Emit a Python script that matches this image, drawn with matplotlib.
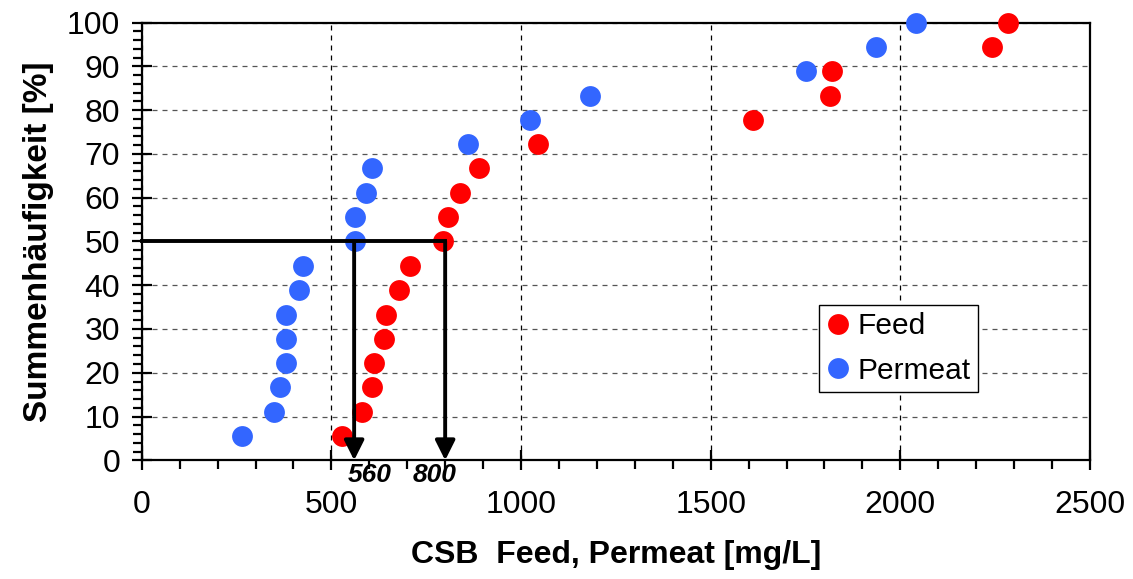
import numpy as np
import matplotlib.pyplot as plt
from matplotlib.ticker import MultipleLocator

plt.rcParams['font.family'] = ['Liberation Sans', 'DejaVu Sans']

# cumulative frequency [%]
freq    = [5.6, 11.1, 16.7, 22.2, 27.8, 33.3, 38.9, 44.4, 50.0,
           55.6, 61.1, 66.7, 72.2, 77.8, 83.3, 88.9, 94.4, 100.0]
# CSB values [mg/L]
feed    = [529, 581, 608, 612, 640, 644, 677, 707, 795,
           808, 840, 888, 1045, 1611, 1815, 1821, 2242, 2284]
permeat = [265, 349, 365, 381, 381, 381, 414, 424, 561,
           561, 592, 608, 860, 1024, 1182, 1752, 1936, 2041]

median_feed    = 800
median_permeat = 560

fig = plt.figure(figsize=(11.33, 5.79), dpi=100)
ax  = fig.add_axes([0.1251, 0.205, 0.8369, 0.756])

ax.set_xlim(0, 2500)
ax.set_ylim(0, 100)

ax.grid(True, which='major', axis='x', color='black', linestyle=(0, (4, 4)), linewidth=0.9)
ax.grid(True, which='major', axis='y', color='#555555', linestyle=(0, (4, 4)), linewidth=0.9)
ax.set_axisbelow(True)

# median lines
ax.plot([0, median_feed], [50, 50], color='black', lw=2.8, zorder=4, clip_on=False)
for xm in (median_permeat, median_feed):
    ax.annotate('', xy=(xm, 0), xytext=(xm, 50),
                arrowprops=dict(arrowstyle='-|>', color='black', lw=2.8,
                                mutation_scale=30, shrinkA=0, shrinkB=0),
                zorder=5)

ax.plot(feed, freq, 'o', color='#ff0000', markersize=15, markeredgewidth=0,
        label='Feed', zorder=3, clip_on=False)
ax.plot(permeat, freq, 'o', color='#3366ff', markersize=15, markeredgewidth=0,
        label='Permeat', zorder=3, clip_on=False)

ax.text(602, -3.3, '560', fontsize=19, fontweight='bold', style='italic',
        ha='center', va='center')
ax.text(773, -3.3, '800', fontsize=19, fontweight='bold', style='italic',
        ha='center', va='center')

ax.xaxis.set_major_locator(MultipleLocator(500))
ax.xaxis.set_minor_locator(MultipleLocator(100))
ax.yaxis.set_major_locator(MultipleLocator(10))
ax.yaxis.set_minor_locator(MultipleLocator(2))
ax.tick_params(axis='both', which='major', direction='inout', length=15, width=1.6,
               labelsize=23)
ax.tick_params(axis='both', which='minor', direction='out', length=6.5, width=1.6)
ax.tick_params(axis='x', which='major', pad=14)
ax.tick_params(axis='y', which='major', pad=8)
for s in ax.spines.values():
    s.set_linewidth(1.6)

ax.set_xlabel('CSB  Feed, Permeat [mg/L]', fontsize=23, fontweight='bold', labelpad=14)
ax.set_ylabel('Summenhäufigkeit [%]', fontsize=24, fontweight='bold', labelpad=9)

leg = ax.legend(loc='upper left', bbox_to_anchor=(0.714, 0.355), fontsize=21.5,
                frameon=True, fancybox=False, edgecolor='black', framealpha=1,
                handletextpad=0.28, borderpad=0.25, labelspacing=0.55,
                handlelength=0.77, borderaxespad=0)
leg.get_frame().set_linewidth(1.0)

fig.savefig('out.png', dpi=100)
